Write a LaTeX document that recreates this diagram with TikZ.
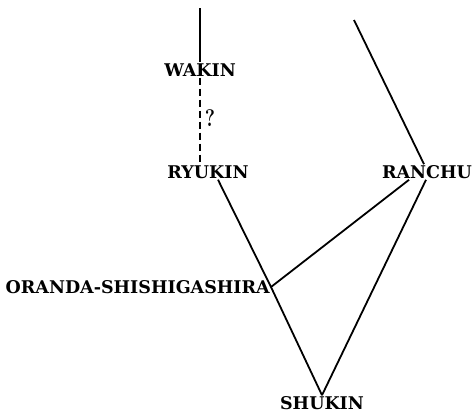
\documentclass[tikz,border=0pt]{standalone}
\usepackage{fontspec}
\newfontfamily\breedfont{DejaVu Serif}
\usetikzlibrary{positioning}

\begin{document}
\begin{tikzpicture}[x=1pt, y=1pt,
        breed/.style={inner sep=1pt, font=\breedfont\bfseries\fontsize{17.5}{20}\selectfont},
        line/.style={line width=1.8pt}]
        % Rahmen
        \useasboundingbox (0,0) rectangle (474,-413);
        % Rassen
        \node[breed] (wakin)  at (200,-70)  {WAKIN};
        \node[breed] (ryukin) at (208,-172) {RYUKIN};
        \node[breed] (ranchu) at (427,-172) {RANCHU};
        \node[breed, anchor=east] (oranda) at (271,-287) {ORANDA-SHISHIGASHIRA};
        \node[breed] (shukin) at (322,-403) {SHUKIN};
        \node[font=\bfseries\fontsize{24}{26}\selectfont, xscale=0.8] (frage) at (210,-118) {?};
        % freie Enden oben
        \coordinate (wtop) at (200,-8);
        \coordinate (rtop) at (354,-20);
        \coordinate (oj) at (oranda.east);
        % Linien
        \draw[line] (wtop) -- (wakin.north -| wtop);
        \draw[line, dash pattern=on 7pt off 4pt] (wakin.south -| wtop) -- (ryukin.north -| wtop);
        \draw[line] ([xshift=10pt]ryukin.south) -- (oj) -- (shukin.north);
        \draw[line] (rtop) -- ([xshift=-3pt]ranchu.north);
        \draw[line] ([xshift=-18pt]ranchu.south) -- (oj);
        \draw[line] ([xshift=-1pt]ranchu.south) -- (shukin.north);
    \end{tikzpicture}
\end{document}
